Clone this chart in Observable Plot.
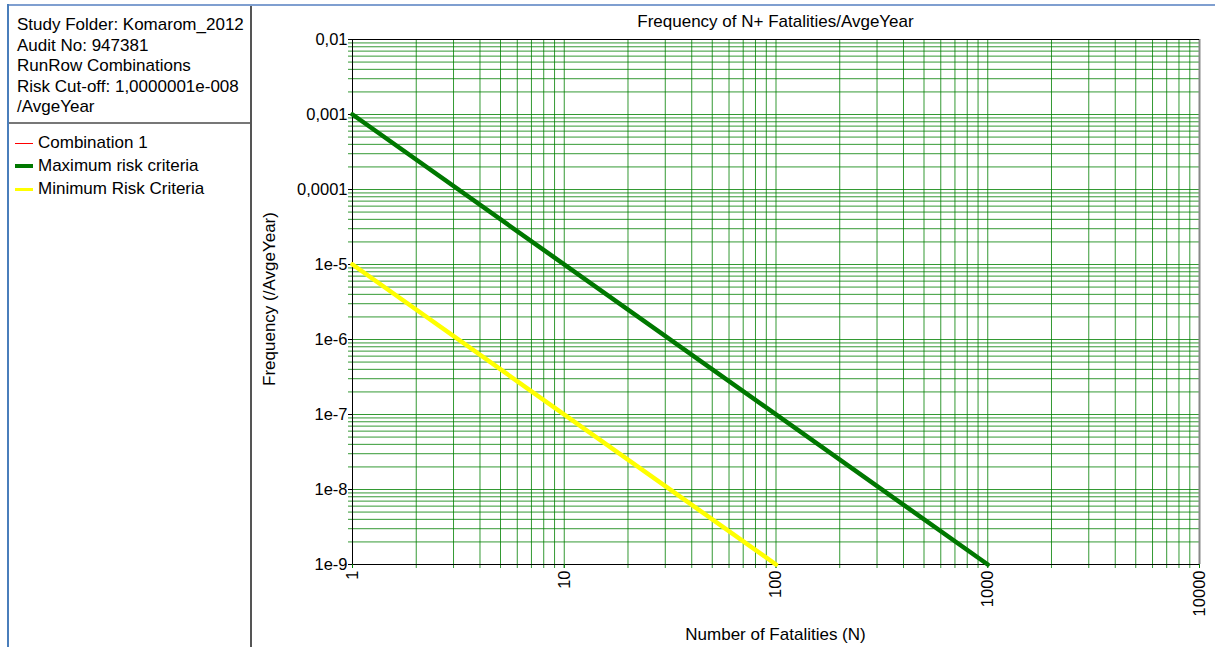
<!DOCTYPE html>
<html>
<head>
<meta charset="utf-8">
<script src="https://cdn.jsdelivr.net/npm/d3@7"></script>
<script src="https://cdn.jsdelivr.net/npm/@observablehq/plot@0.6"></script>
<style>
  html, body { margin: 0; padding: 0; background: #fff; }
  body { width: 1215px; height: 647px; position: relative; overflow: hidden; font-family: "Liberation Sans", Arial, sans-serif; color: #000; }
  .abs { position: absolute; white-space: nowrap; }
  #frameTop { left: 7px; top: 4px; width: 1208px; height: 2px; background: #7f9fd0; }
  #frameLeft { left: 7px; top: 4px; width: 2px; height: 643px; background: #4a7ebb; }
  #panelSep { left: 250px; top: 6px; width: 2px; height: 641px; background: #555; }
  #infoSep { left: 9px; top: 122px; width: 241px; height: 2px; background: #777; }
  #info { left: 17px; top: 15px; font-size: 17px; line-height: 20.5px; }
  #legend { left: 15px; top: 131px; font-size: 17px; }
  .leg { position: relative; height: 23px; line-height: 23px; }
  .sw { position: absolute; left: 0; width: 18px; }
  .lt { position: absolute; left: 23px; top: 0; }
  #title { left: 352px; width: 847px; top: 12px; text-align: center; font-size: 17px; }
  #xlabel { left: 352px; width: 847px; top: 625px; text-align: center; font-size: 17px; }
  #ylabel { left: 270px; top: 299px; font-size: 17px; transform: translate(-50%, -50%) rotate(-90deg); }
  #chart { position: absolute; left: 252px; top: 6px; }
</style>
</head>
<body>
<div class="abs" id="frameTop"></div>
<div class="abs" id="frameLeft"></div>
<div class="abs" id="panelSep"></div>
<div class="abs" id="infoSep"></div>
<div class="abs" id="info"></div>
<div class="abs" id="legend"></div>
<div class="abs" id="title"></div>
<div class="abs" id="xlabel"></div>
<div class="abs" id="ylabel"></div>
<div id="chart"></div>
<script>
// ---- Text ----
const infoLines = ["Study Folder: Komarom_2012", "Audit No: 947381", "RunRow Combinations", "Risk Cut-off: 1,0000001e-008", "/AvgeYear"];
const chartTitle = "Frequency of N+ Fatalities/AvgeYear";
const xTitle = "Number of Fatalities (N)";
const yTitle = "Frequency (/AvgeYear)";

// ---- Legend ----
const seriesNames = ["Combination 1", "Maximum risk criteria", "Minimum Risk Criteria"];
const seriesColors = ["#ff0000", "#007800", "#ffff00"];
const seriesWidths = [1, 4, 3];

// ---- Axis ticks ----
const xDecades = [1, 10, 100, 1000];
const yDecades = [1e-9, 1e-8, 1e-7, 1e-6, 1e-5, 1e-4, 1e-3];
const multipliers = [1, 2, 3, 4, 5, 6, 7, 8, 9];
const xMajor = [1, 10, 100, 1000, 10000];
const xMajorLabels = ["1", "10", "100", "1000", "10000"];
const yMajor = [1e-2, 1e-3, 1e-4, 1e-5, 1e-6, 1e-7, 1e-8, 1e-9];
const yMajorLabels = ["0,01", "0,001", "0,0001", "1e-5", "1e-6", "1e-7", "1e-8", "1e-9"];

// ---- Series values ----
const maxN = [1, 1000];
const maxF = [1e-3, 1e-9];
const minN = [1, 100];
const minF = [1e-5, 1e-9];
const comboN = [];
const comboF = [];

// ---- Build ----
document.getElementById("info").innerHTML = infoLines.map(s => `<div>${s}</div>`).join("");
document.getElementById("legend").innerHTML = seriesNames.map((s, i) =>
  `<div class="leg"><div class="sw" style="height:${seriesWidths[i]}px;top:${12 - Math.floor(seriesWidths[i] / 2)}px;background:${seriesColors[i]}"></div><div class="lt">${s}</div></div>`).join("");
document.getElementById("title").textContent = chartTitle;
document.getElementById("xlabel").textContent = xTitle;
document.getElementById("ylabel").textContent = yTitle;

const xGrid = [];
xDecades.forEach(d => multipliers.forEach(m => xGrid.push(+(d * m).toPrecision(6))));
xGrid.push(10000);
const yGrid = [];
yDecades.forEach(d => multipliers.forEach(m => yGrid.push(+(d * m).toPrecision(6))));
yGrid.push(1e-2);

const xLab = new Map(xMajor.map((v, i) => [v, xMajorLabels[i]]));
const yLab = new Map(yMajor.map((v, i) => [v, yMajorLabels[i]]));

const maxData = maxN.map((n, i) => ({n, f: maxF[i]}));
const minData = minN.map((n, i) => ({n, f: minF[i]}));
const comboData = comboN.map((n, i) => ({n, f: comboF[i]}));

const chart = Plot.plot({
  width: 963,
  height: 641,
  marginLeft: 100,
  marginRight: 16,
  marginTop: 33,
  marginBottom: 83,
  style: {fontFamily: "'Liberation Sans', Arial, sans-serif", fontSize: "16.5px", color: "#000", background: "transparent", overflow: "visible"},
  x: {type: "log", domain: [1, 10000]},
  y: {type: "log", domain: [1e-9, 1e-2]},
  marks: [
    Plot.ruleX(xGrid, {x: d => d, stroke: "#008000", strokeOpacity: 0.8, strokeWidth: 1, insetBottom: -4}),
    Plot.ruleY(yGrid, {y: d => d, stroke: "#008000", strokeOpacity: 0.8, strokeWidth: 1, insetLeft: -4}),
    Plot.ruleX([10000], {stroke: "#888", strokeWidth: 2}),
    Plot.ruleY([1e-2], {stroke: "#000", strokeWidth: 1}),
    Plot.ruleY([1e-9], {stroke: "#000", strokeWidth: 1}),
    Plot.ruleX([1], {stroke: "#000", strokeWidth: 1}),
    Plot.axisY(yMajor, {tickFormat: d => yLab.get(d), tickSize: 4, tickPadding: 1, stroke: "#000", label: null, fontSize: 16.5}),
    Plot.axisX(xMajor, {tickFormat: d => xLab.get(d), tickSize: 4, tickPadding: 2, tickRotate: -90, textAnchor: "end", lineAnchor: "middle", stroke: "#008000", label: null, fontSize: 16.5}),
    Plot.line(comboData, {x: "n", y: "f", stroke: seriesColors[0], strokeWidth: seriesWidths[0]}),
    Plot.line(minData, {x: "n", y: "f", stroke: seriesColors[2], strokeWidth: 4.5}),
    Plot.line(maxData, {x: "n", y: "f", stroke: seriesColors[1], strokeWidth: 4.5})
  ]
});
document.getElementById("chart").appendChild(chart);
</script>
</body>
</html>
